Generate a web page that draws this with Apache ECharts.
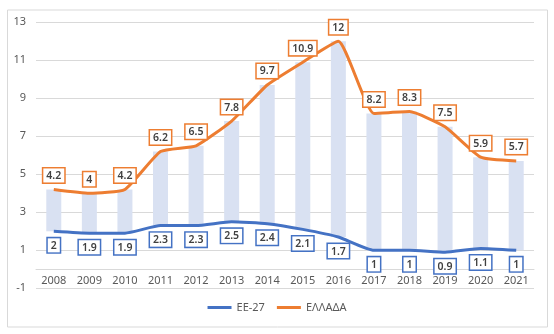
<!DOCTYPE html>
<html><head><meta charset="utf-8">
<script src="https://cdn.jsdelivr.net/npm/echarts@6/dist/echarts.min.js"></script>
<style>html,body{margin:0;padding:0;background:#fff}#c{width:554px;height:334px}</style>
</head><body><div id="c"></div>
<script>
const years = ['2008','2009','2010','2011','2012','2013','2014','2015','2016','2017','2018','2019','2020','2021'];
const eu27 = [2,1.9,1.9,2.3,2.3,2.5,2.4,2.1,1.7,1,1,0.9,1.1,1];
const greece = [4.2,4,4.2,6.2,6.5,7.8,9.7,10.9,12,8.2,8.3,7.5,5.9,5.7];
const yTicks = [-1,1,3,5,7,9,11,13];

const gap = greece.map((v,i)=>+(v-eu27[i]).toFixed(2));
const font = 'Noto Sans';
const labelBox = (color, pos) => ({
  show: true, position: pos, distance: 7,
  color: '#404040', fontFamily: font, fontSize: 10.5, fontWeight: 600,
  backgroundColor: '#fff', borderColor: color, borderWidth: 1.5,
  padding: [2,3,1,3]
});
const chart = echarts.init(document.getElementById('c'));
chart.setOption({
  animation: false,
  graphic: [{type:'rect', shape:{x:7.5,y:10,width:540,height:317}, style:{fill:'none', stroke:'#d9d9d9', lineWidth:1}, z:-10}],
  grid: {left:36, right:20, top:22.3, bottom:45.7},
  legend: {
    bottom: 16, left: 'center', itemWidth: 24, itemHeight: 3, itemGap: 12,
    textStyle: {color:'#595959', fontFamily: font, fontSize: 11},
    data: [{name:'EE-27', icon:'rect'}, {name:'ΕΛΛΑΔΑ', icon:'rect'}]
  },
  xAxis: {
    type:'category', data: years, boundaryGap: true, offset: -19,
    axisLine: {show:true, onZero:false, lineStyle:{color:'#d9d9d9', width:1}},
    axisTick: {show:false},
    axisLabel: {color:'#595959', fontFamily: font, fontSize: 11, margin: 6}
  },
  yAxis: {
    type:'value', min: yTicks[0], max: yTicks[yTicks.length-1], interval: 2,
    axisLine:{show:false}, axisTick:{show:false},
    splitLine:{lineStyle:{color:'#d9d9d9', width:1}},
    axisLabel:{color:'#595959', fontFamily: font, fontSize: 11, margin: 10}
  },
  series: [
    {name:'base', type:'bar', stack:'hl', data: eu27, barWidth: 15, itemStyle:{color:'transparent'}, silent:true, z:1},
    {name:'gap', type:'bar', stack:'hl', data: gap, barWidth: 15, itemStyle:{color:'#d9e1f2'}, z:1},
    {name:'EE-27', type:'line', data: eu27, smooth: 0.15, symbol:'circle', symbolSize: 0.1, showSymbol: true,
     lineStyle:{color:'#4472c4', width:3}, itemStyle:{color:'#4472c4'},
     label: labelBox('#4472c4','bottom'), z:5},
    {name:'ΕΛΛΑΔΑ', type:'line', data: greece, smooth: 0.15, symbol:'circle', symbolSize: 0.1, showSymbol: true,
     lineStyle:{color:'#ed7d31', width:3}, itemStyle:{color:'#ed7d31'},
     label: labelBox('#ed7d31','top'), z:5}
  ]
});
</script></body></html>
